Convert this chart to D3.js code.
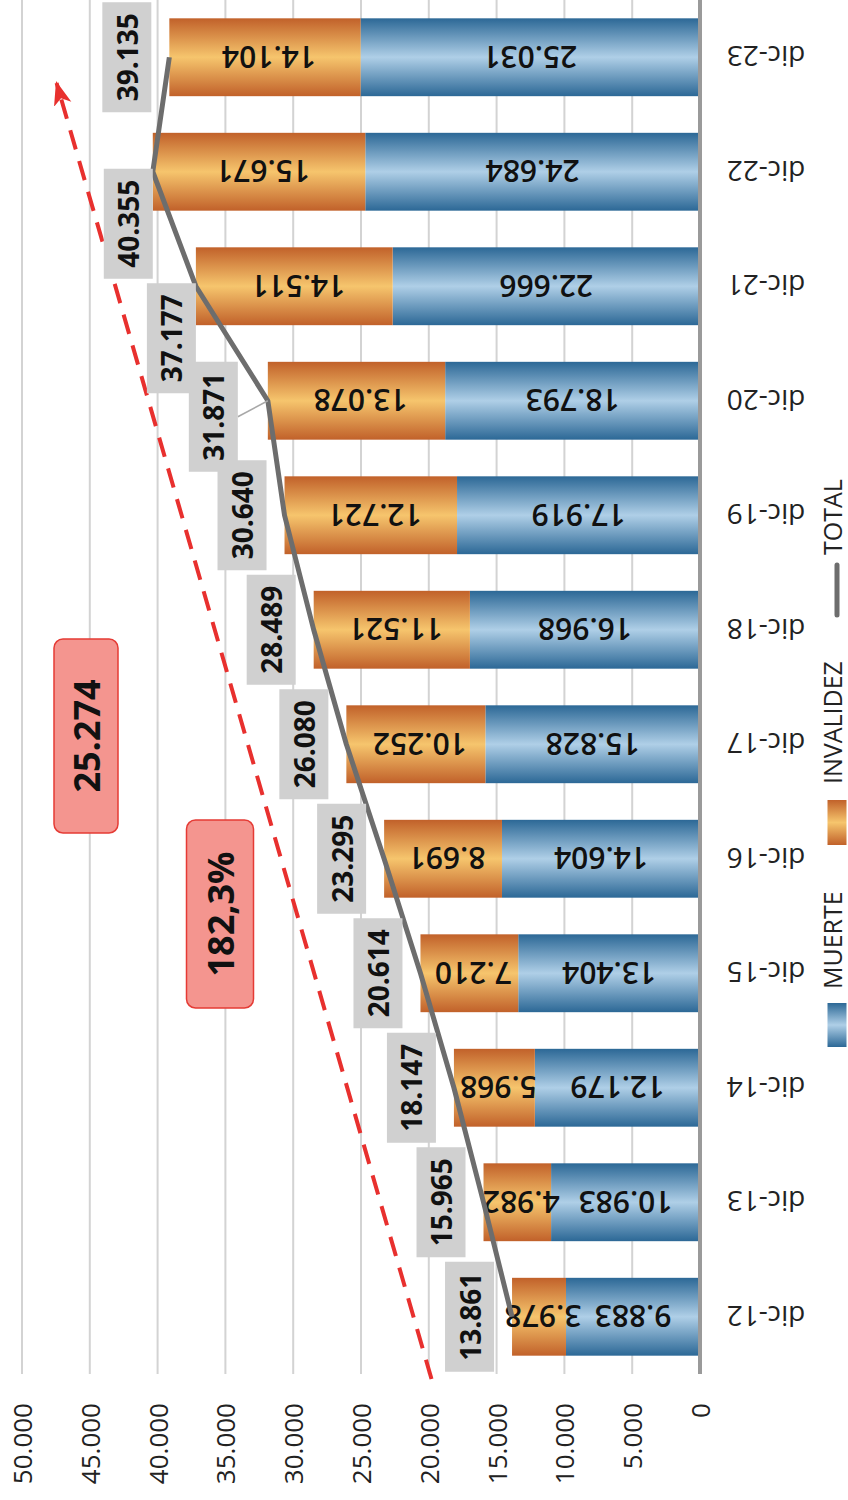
<!DOCTYPE html>
<html>
<head>
<meta charset="utf-8">
<script src="https://cdn.jsdelivr.net/npm/d3@7"></script>
<style>
  html, body { margin: 0; padding: 0; background: #fff; }
  svg { display: block; font-family: "Open Sans", "Noto Sans", sans-serif; }
</style>
</head>
<body>
<svg id="chart" width="848" height="1500"></svg>
<script>
// ---- data ----
const categories = ["dic-12","dic-13","dic-14","dic-15","dic-16","dic-17","dic-18","dic-19","dic-20","dic-21","dic-22","dic-23"];
const muerte    = [9883, 10983, 12179, 13404, 14604, 15828, 16968, 17919, 18793, 22666, 24684, 25031];
const invalidez = [3978, 4982, 5968, 7210, 8691, 10252, 11521, 12721, 13078, 14511, 15671, 14104];
const total     = [13861, 15965, 18147, 20614, 23295, 26080, 28489, 30640, 31871, 37177, 40355, 39135];
const tickValues = [0, 5000, 10000, 15000, 20000, 25000, 30000, 35000, 40000, 45000, 50000];
const seriesNames = ["MUERTE", "INVALIDEZ", "TOTAL"];
const annotationIncrease = "25.274";
const annotationPercent = "182,3%";
const trendStart = 19800;  // value at bottom of trend arrow
const trendEnd = 47450;    // value at tip of trend arrow

// ---- setup ----
const loc = d3.formatLocale({decimal: ",", thousands: ".", grouping: [3], currency: ["", ""]});
const fmt = loc.format(",d");

const svg = d3.select("#chart");
const x0 = 700, x1 = 22, yTop = 0, yBot = 1374;
const x = d3.scaleLinear().domain([0, 50000]).range([x0, x1]);
const y = d3.scaleBand().domain(categories).range([yBot, yTop]).paddingInner(0.32).paddingOuter(0.16);
const yc = c => y(c) + y.bandwidth() / 2;

const defs = svg.append("defs");
function grad(id, edge, mid, horiz) {
  const g = defs.append("linearGradient").attr("id", id)
    .attr("x1", 0).attr("y1", 0).attr("x2", horiz ? 1 : 0).attr("y2", horiz ? 0 : 1);
  g.append("stop").attr("offset", "0%").attr("stop-color", edge);
  g.append("stop").attr("offset", "50%").attr("stop-color", mid);
  g.append("stop").attr("offset", "100%").attr("stop-color", edge);
}
grad("gBlue", "#2c6896", "#afcfe7", false);
grad("gOrange", "#c1612a", "#f6c56d", false);
grad("gBlueH", "#2c6896", "#afcfe7", true);
grad("gOrangeH", "#c1612a", "#f6c56d", true);

defs.append("marker").attr("id", "arrow").attr("markerUnits", "userSpaceOnUse")
  .attr("viewBox", "0 0 24 24").attr("refX", 22).attr("refY", 12)
  .attr("markerWidth", 24).attr("markerHeight", 24).attr("orient", "auto")
  .append("path").attr("d", "M0,3 L24,12 L0,21 L6,12 Z").attr("fill", "#e8302e");

// ---- gridlines ----
svg.append("g").selectAll("line").data(tickValues.filter(v => v > 0)).join("line")
  .attr("x1", d => x(d)).attr("x2", d => x(d)).attr("y1", yTop).attr("y2", yBot)
  .attr("stroke", "#d3d3d3").attr("stroke-width", 2);

// ---- tick labels ----
svg.append("g").selectAll("text").data(tickValues).join("text")
  .attr("transform", d => `translate(${x(d)},1403) rotate(-90)`)
  .attr("text-anchor", "end").attr("dominant-baseline", "central")
  .attr("font-size", 26).attr("fill", "#222")
  .text(d => fmt(d));

// ---- bars ----
const rows = categories.map((c, i) => ({c, m: muerte[i], v: invalidez[i], t: total[i]}));
const bars = svg.append("g");
bars.selectAll("rect.m").data(rows).join("rect").attr("class", "m")
  .attr("x", d => x(d.m)).attr("width", d => x(0) - x(d.m))
  .attr("y", d => y(d.c)).attr("height", y.bandwidth()).attr("fill", "url(#gBlue)");
bars.selectAll("rect.v").data(rows).join("rect").attr("class", "v")
  .attr("x", d => x(d.m + d.v)).attr("width", d => x(d.m) - x(d.m + d.v))
  .attr("y", d => y(d.c)).attr("height", y.bandwidth()).attr("fill", "url(#gOrange)");

// axis line
svg.append("line").attr("x1", x(0)).attr("x2", x(0)).attr("y1", yTop).attr("y2", yBot)
  .attr("stroke", "#9a9a9a").attr("stroke-width", 4);

// bar labels (upside down)
const bl = svg.append("g").attr("font-size", 30).attr("font-weight", 600).attr("fill", "#111")
  .attr("text-anchor", "middle").attr("dominant-baseline", "central");
bl.selectAll("text.m").data(rows).join("text").attr("class", "m")
  .attr("transform", d => `translate(${(x(0) + x(d.m)) / 2},${yc(d.c)}) rotate(180)`)
  .text(d => fmt(d.m));
bl.selectAll("text.v").data(rows).join("text").attr("class", "v")
  .attr("transform", d => `translate(${(x(d.m) + x(d.m + d.v)) / 2 + 4},${yc(d.c)}) rotate(180)`)
  .text(d => fmt(d.v));

// category labels
svg.append("g").selectAll("text").data(categories).join("text")
  .attr("transform", d => `translate(766,${yc(d)}) rotate(180)`)
  .attr("text-anchor", "middle").attr("dominant-baseline", "central")
  .attr("font-size", 28).attr("fill", "#222").text(d => d);

// ---- trend arrow ----
svg.append("line")
  .attr("x1", x(trendStart)).attr("y1", yBot + 5)
  .attr("x2", x(trendEnd)).attr("y2", 83)
  .attr("stroke", "#e8302e").attr("stroke-width", 4)
  .attr("stroke-dasharray", "20,12").attr("marker-end", "url(#arrow)");

// ---- total line ----
const line = d3.line().x(d => x(d.t)).y(d => yc(d.c));
svg.append("path").datum(rows).attr("d", line)
  .attr("fill", "none").attr("stroke", "#6d6d6d").attr("stroke-width", 5).attr("stroke-linejoin", "round");

// total labels
const shift = {"dic-22": {dx: 18, dy: 52}, "dic-21": {dx: 18, dy: 52}, "dic-20": {dx: -12, dy: 16, leader: true}};
const boxW = 49, boxL = 110;
const tl = svg.append("g");
rows.forEach(d => {
  const s = shift[d.c] || {dx: 0, dy: 0};
  const right = x(d.t) - 18 + s.dx;
  const cx = right - boxW / 2, cy = yc(d.c) + s.dy;
  if (s.leader) {
    tl.append("line").attr("x1", right).attr("y1", cy).attr("x2", x(d.t)).attr("y2", yc(d.c))
      .attr("stroke", "#a8a8a8").attr("stroke-width", 1.5);
  }
  const g = tl.append("g").attr("transform", `translate(${cx},${cy}) rotate(-90)`);
  g.append("rect").attr("x", -boxL / 2).attr("y", -boxW / 2).attr("width", boxL).attr("height", boxW).attr("fill", "#d0d0d0");
  g.append("text").attr("text-anchor", "middle").attr("dominant-baseline", "central")
    .attr("font-size", 28).attr("font-weight", 700).attr("fill", "#111").text(fmt(d.t));
});

// ---- annotations ----
function note(cx, cy, w, h, txt) {
  const g = svg.append("g").attr("transform", `translate(${cx},${cy}) rotate(-90)`);
  g.append("rect").attr("x", -h / 2).attr("y", -w / 2).attr("width", h).attr("height", w)
    .attr("rx", 9).attr("fill", "#f4958f").attr("stroke", "#e53b35").attr("stroke-width", 1.5);
  g.append("text").attr("text-anchor", "middle").attr("dominant-baseline", "central")
    .attr("font-size", 36).attr("font-weight", 700).attr("fill", "#111").text(txt);
}
note(86, 736, 64, 194, annotationIncrease);
note(220, 914, 67, 188, annotationPercent);

// ---- legend ----
const lg = svg.append("g").attr("transform", "translate(832,1047) rotate(-90)")
  .attr("font-size", 25).attr("fill", "#222");
lg.append("rect").attr("x", 0).attr("y", -4.5).attr("width", 44).attr("height", 19).attr("fill", "url(#gBlueH)");
lg.append("text").attr("x", 58).attr("dominant-baseline", "central").text(seriesNames[0]);
lg.append("rect").attr("x", 202).attr("y", -4.5).attr("width", 45).attr("height", 19).attr("fill", "url(#gOrangeH)");
lg.append("text").attr("x", 263).attr("dominant-baseline", "central").text(seriesNames[1]);
lg.append("line").attr("x1", 432).attr("x2", 482).attr("y1", 5).attr("y2", 5).attr("stroke", "#6d6d6d").attr("stroke-width", 5).attr("stroke-linecap", "round");
lg.append("text").attr("x", 492).attr("dominant-baseline", "central").text(seriesNames[2]);
</script>
</body>
</html>
